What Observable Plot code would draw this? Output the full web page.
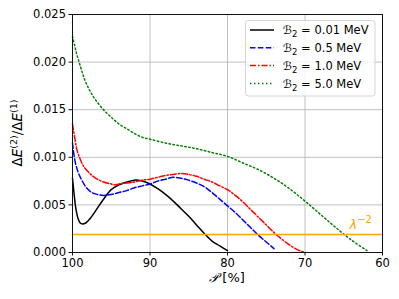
<!DOCTYPE html>
<html><head><meta charset="utf-8">
<script src="https://cdn.jsdelivr.net/npm/d3@7"></script>
<script src="https://cdn.jsdelivr.net/npm/@observablehq/plot@0.6"></script>
<style>html,body{margin:0;padding:0;background:#fff}svg{display:block}</style>
</head><body><div id="c"></div>
<script>
// ---- data ----
const xTicks = [100, 90, 80, 70, 60];
const yTicks = [0, 0.005, 0.010, 0.015, 0.020, 0.025];
const seriesB2 = ["0.01", "0.5", "1.0", "5.0"];
const seriesColors = ["#000000", "#0000ff", "#ff0000", "#008000"];
const seriesDash = [null, "5.5,2.4", "6,2,1.5,2", "1.5,2.5"];

const P_001 = [100, 99.8, 99.6, 99.3, 99.0, 98.7, 98.3, 97.8, 97.0, 96.0, 95.0, 94.0, 93.0, 92.0, 91.0, 90.0, 89.0, 88.0, 87.0, 86.0, 85.0, 84.0, 83.0, 82.0, 81.0, 80.0];
const V_001 = [0.0078, 0.0062, 0.0048, 0.0036, 0.0031, 0.0030, 0.0031, 0.0035, 0.0044, 0.0056, 0.0066, 0.0071, 0.0074, 0.0076, 0.0075, 0.0072, 0.0067, 0.0061, 0.0054, 0.0046, 0.0038, 0.0029, 0.0020, 0.0012, 0.0007, 0.0002];

const P_05 = [100, 99.7, 99.3, 98.8, 98.2, 97.5, 96.8, 96.0, 95.0, 94.0, 93.0, 92.0, 91.0, 90.0, 89.0, 88.0, 87.0, 86.0, 85.0, 84.0, 83.0, 82.0, 81.0, 80.0, 79.0, 78.0, 77.0, 76.0, 75.0, 74.0];
const V_05 = [0.0115, 0.0097, 0.0085, 0.0076, 0.0068, 0.0063, 0.0061, 0.0060, 0.0061, 0.0063, 0.0065, 0.0068, 0.0070, 0.0072, 0.0075, 0.0077, 0.0079, 0.0078, 0.0076, 0.0073, 0.0069, 0.0063, 0.0056, 0.0049, 0.0042, 0.0034, 0.0026, 0.0018, 0.0011, 0.0004];

const P_10 = [100, 99.7, 99.4, 99.0, 98.6, 98.0, 97.5, 96.8, 96.0, 95.0, 94.5, 94.0, 93.0, 92.0, 91.0, 90.0, 89.0, 88.0, 87.0, 86.0, 85.0, 84.0, 83.0, 82.0, 81.0, 80.0, 79.0, 78.0, 77.0, 76.0, 75.0, 74.0, 73.0, 72.0, 71.0, 70.0];
const V_10 = [0.0135, 0.0120, 0.0107, 0.0098, 0.0091, 0.0085, 0.0081, 0.0077, 0.0074, 0.0072, 0.0071, 0.0072, 0.0073, 0.0074, 0.0076, 0.0077, 0.0079, 0.0081, 0.0082, 0.0083, 0.0082, 0.0080, 0.0077, 0.0074, 0.0070, 0.0066, 0.0060, 0.0053, 0.0045, 0.0037, 0.0029, 0.0021, 0.0014, 0.0008, 0.0003, 0.0000];

const P_50 = [100, 99.5, 99.0, 98.4, 97.7, 97.0, 96.0, 95.0, 94.0, 93.0, 92.0, 91.0, 90.0, 88.0, 86.0, 84.0, 82.0, 80.0, 78.0, 76.0, 74.0, 72.0, 70.0, 68.0, 66.0, 64.0, 62.0];
const V_50 = [0.0227, 0.0210, 0.0196, 0.0181, 0.0169, 0.0160, 0.0150, 0.0142, 0.0135, 0.0130, 0.0125, 0.0121, 0.0119, 0.0115, 0.0112, 0.0109, 0.0105, 0.0101, 0.0094, 0.0087, 0.0078, 0.0067, 0.0054, 0.0040, 0.0026, 0.0013, 0.0002];

const lambdaLevel = 0.0019;
const lambdaLabelP = 64.2;

// ---- build ----
const seriesP = [P_001, P_05, P_10, P_50];
const seriesV = [V_001, V_05, V_10, V_50];
const series = seriesP.map((ps, i) => ps.map((p, j) => ({P: p, v: seriesV[i][j]})));

const font = "DejaVu Sans";
const chart = Plot.plot({
  width: 399, height: 299,
  marginLeft: 72, marginRight: 17, marginTop: 14, marginBottom: 47,
  style: {fontFamily: font, fontSize: "11.5px", color: "#000", background: "#fff", overflow: "visible"},
  x: {domain: [100, 60]},
  y: {domain: [0, 0.025]},
  marks: [
    Plot.gridX(xTicks, {stroke: "#b0b0b0", strokeOpacity: 1, strokeWidth: 0.8}),
    Plot.gridY(yTicks, {stroke: "#b0b0b0", strokeOpacity: 1, strokeWidth: 0.8}),
    ...series.map((d, i) => Plot.line(d, {
      x: "P", y: "v", stroke: seriesColors[i], strokeWidth: 1.5,
      strokeDasharray: seriesDash[i] || undefined, curve: "catmull-rom"
    })),
    Plot.ruleY([lambdaLevel], {stroke: "orange", strokeWidth: 1.5}),
    Plot.frame({stroke: "#111", strokeWidth: 1}),
    Plot.axisX(xTicks, {tickSize: 3.5, tickPadding: 3, label: null, tickFormat: d => String(d), stroke: "#111"}),
    Plot.axisY(yTicks, {tickSize: 3.5, tickPadding: 3, label: null, tickFormat: d3.format(".3f"), stroke: "#111"})
  ]
});
document.getElementById("c").appendChild(chart);

const svg = d3.select(chart);
const sx = chart.scale("x"), sy = chart.scale("y");

// lambda label
const lt = svg.append("text")
  .attr("x", sx.apply(lambdaLabelP)).attr("y", sy.apply(lambdaLevel) - 5)
  .attr("fill", "orange").attr("font-family", font).attr("font-size", 13).attr("text-anchor", "start");
lt.append("tspan").attr("font-style", "italic").text("λ");
lt.append("tspan").attr("dy", -5.5).attr("font-size", 10).text("−2");

// x label
const xl = svg.append("text")
  .attr("x", (sx.range[0] + sx.range[1]) / 2).attr("y", 282)
  .attr("text-anchor", "middle").attr("font-family", font).attr("font-size", 13);
xl.append("tspan").attr("font-style", "italic").text("𝒫");
xl.append("tspan").text(" [%]");

// y label
const cy = (sy.range[0] + sy.range[1]) / 2;
const yl = svg.append("text")
  .attr("transform", `translate(22,${cy}) rotate(-90)`)
  .attr("text-anchor", "middle").attr("font-family", font).attr("font-size", 13.5);
yl.append("tspan").text("Δ");
yl.append("tspan").attr("font-style", "italic").text("E");
yl.append("tspan").attr("dy", -5.5).attr("font-size", 9.5).text("(2)");
yl.append("tspan").attr("dy", 5.5).text("/Δ");
yl.append("tspan").attr("font-style", "italic").text("E");
yl.append("tspan").attr("dy", -5.5).attr("font-size", 9.5).text("(1)");

// legend
const lg = svg.append("g");
lg.append("rect").attr("x", 245.5).attr("y", 20.5).attr("width", 129.5).attr("height", 75.5)
  .attr("rx", 2.5).attr("fill", "white").attr("fill-opacity", 0.85).attr("stroke", "#cccccc").attr("stroke-width", 0.8);
seriesB2.forEach((b, i) => {
  const y = 30 + i * 17.8;
  lg.append("line").attr("x1", 250).attr("x2", 274).attr("y1", y).attr("y2", y)
    .attr("stroke", seriesColors[i]).attr("stroke-width", 1.5)
    .attr("stroke-dasharray", seriesDash[i]);
  const t = lg.append("text").attr("x", 283).attr("y", y + 4.2).attr("text-anchor", "start")
    .attr("font-family", font).attr("font-size", 11.5);
  t.append("tspan").attr("font-style", "italic").text("ℬ");
  t.append("tspan").attr("dy", 3).attr("font-size", 8.5).text("2");
  t.append("tspan").attr("dy", -3).text(" = " + b + " MeV");
});
</script>
</body></html>
